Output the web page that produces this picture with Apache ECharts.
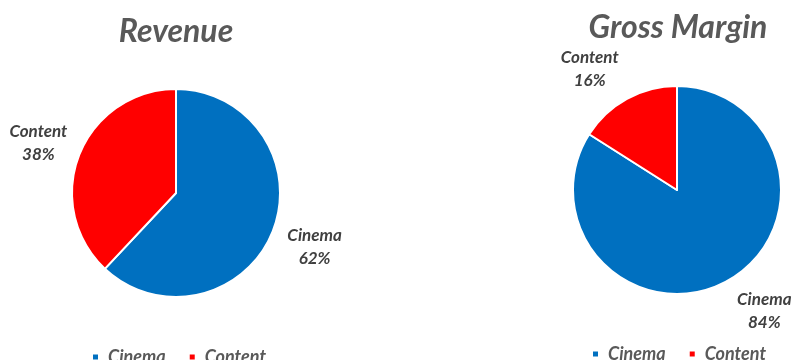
<!DOCTYPE html>
<html>
<head>
<meta charset="utf-8">
<script src="https://cdn.jsdelivr.net/npm/echarts@6/dist/echarts.min.js"></script>
<style>
html,body{margin:0;padding:0;background:#fff;}
#chart{width:797px;height:360px;}
</style>
</head>
<body>
<div id="chart"></div>
<script>
// ---- data ----
const categories = ['Cinema', 'Content'];
const revenueShare = [62, 38];
const marginShare = [84, 16];
const chartTitles = ['Revenue', 'Gross Margin'];

// ---- style ----
const colors = ['#0070C0', '#FF0000'];
const fontFamily = 'Lato, "Open Sans", sans-serif';
const pieCenters = [[176, 193], [677, 190]];
const titleCenters = [171, 673];
const labelNudge = [[[1, 0], [0, 4]], [[16, -9], [-16, 9]]];

const chart = echarts.init(document.getElementById('chart'), null, { renderer: 'canvas' });

function makePie(idx, values) {
  return {
    type: 'pie',
    radius: 104,
    center: pieCenters[idx],
    startAngle: 90,
    clockwise: true,
    avoidLabelOverlap: false,
    percentPrecision: 0,
    itemStyle: { borderColor: '#fff', borderWidth: 2 },
    label: {
      show: true,
      position: 'outside',
      formatter: '{b}\n{d}%',
      color: '#404040',
      fontFamily: fontFamily,
      fontWeight: 'bold',
      fontStyle: 'italic',
      fontSize: 17,
      lineHeight: 23
    },
    labelLine: { show: false, length: 44, length2: 0 },
    labelLayout: function (p) {
      const r = p.labelRect;
      const ax = p.align === 'left' ? r.x - 5 : (p.align === 'right' ? r.x + r.width + 5 : r.x + r.width / 2);
      const ay = r.y + r.height / 2;
      const n = labelNudge[p.seriesIndex][p.dataIndex];
      return { x: ax + n[0], y: ay + n[1], align: 'center', verticalAlign: 'middle' };
    },
    emphasis: { disabled: true },
    data: categories.map((c, i) => ({ name: c, value: values[i] }))
  };
}

const legendText = {
  color: '#595959',
  fontFamily: fontFamily,
  fontWeight: 'bold',
  fontStyle: 'italic',
  fontSize: 18,
  padding: [0, 0, 0, 4]
};

chart.setOption({
  animation: false,
  color: colors,
  title: chartTitles.map((t, i) => ({
    text: t,
    left: titleCenters[i],
    textAlign: 'center',
    top: i === 0 ? 11 : 7,
    textStyle: {
      color: '#595959',
      fontFamily: fontFamily,
      fontWeight: 'bold',
      fontStyle: 'italic',
      fontSize: 32
    }
  })),
  legend: [
    { data: categories, left: 86, top: 343, icon: 'rect', itemWidth: 7, itemHeight: 7, itemGap: 22, textStyle: legendText, selectedMode: false },
    { data: categories, left: 586, top: 340, icon: 'rect', itemWidth: 7, itemHeight: 7, itemGap: 22, textStyle: legendText, selectedMode: false }
  ],
  series: [makePie(0, revenueShare), makePie(1, marginShare)]
});
</script>
</body>
</html>
